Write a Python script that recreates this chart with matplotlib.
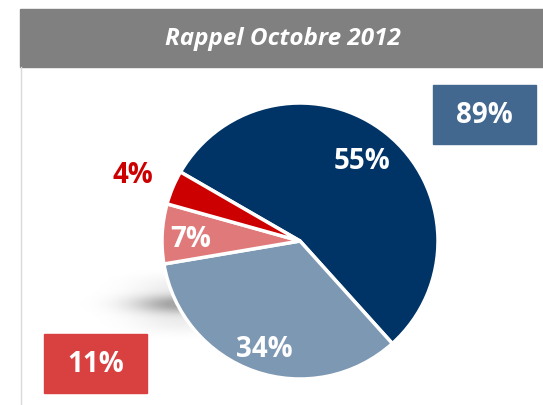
import matplotlib.pyplot as plt
from matplotlib.patches import Rectangle
import numpy as np

plt.rcParams['font.family'] = ['Open Sans', 'DejaVu Sans']

# data
title = 'Rappel Octobre 2012'
labels = ['55%', '34%', '7%', '4%']
shares = [55, 34, 7, 4]
colors = ['#003366', '#7d98b3', '#e07a7a', '#cc0000']
explode = [0.0, 0.0, 0.0, 0.05]
box_labels = ['89%', '11%']
box_colors = ['#436890', '#d94141']

W, H = 543, 406
fig = plt.figure(figsize=(W / 100, H / 100), dpi=100)
ax = fig.add_axes([0, 0, 1, 1])

# title bar
ax.add_patch(Rectangle((20, H - 68), W - 20, 58, color='#808080', zorder=1))
ax.text(283, H - 39, title, color='white', fontsize=17.5, fontweight='bold',
        fontstyle='italic', ha='center', va='center', zorder=2)
ax.plot([21, 21], [0, H - 68], color='#d9d9d9', lw=1, zorder=1)

# soft blurred shadow behind the pie (lower left)
cx, cy, r = 300, H - 242, 138
gx, gy = np.meshgrid(np.linspace(-1, 1, 200), np.linspace(-1, 1, 100))
soft = np.exp(-(gx ** 2 / 0.3 + gy ** 2 / 0.2) * 2)
streak = 1 + 0.35 * np.cos(gy * 12)
alpha = np.clip(soft * streak * 0.28, 0, 0.35)
shadow = np.zeros((100, 200, 4))
shadow[..., 3] = alpha
ax.imshow(shadow, extent=(60, 300, H - 360, H - 250), zorder=2,
          interpolation='bilinear', aspect='auto')

wedges, _ = ax.pie(shares, colors=colors, startangle=150, counterclock=False,
                   explode=explode, center=(cx, cy), radius=r,
                   wedgeprops=dict(edgecolor='white', linewidth=2.5))
for w in wedges:
    w.set_zorder(3)

# slice labels
label_pos = [(362, 162), (264, 350), (191, 240), (133, 176)]
label_col = ['white', 'white', 'white', '#cc0000']
for lab, (x, y), c in zip(labels, label_pos, label_col):
    ax.text(x, H - y, lab, color=c, fontsize=20, fontweight='bold',
            ha='center', va='center', zorder=4)

# summary boxes
boxes = [(433, 86, 103, 59), (44, 335, 103, 59)]
for lab, (x, y, bw, bh), c in zip(box_labels, boxes, box_colors):
    ax.add_patch(Rectangle((x, H - y - bh), bw, bh, color=c, zorder=3))
    ax.text(x + bw / 2, H - y - bh / 2, lab, color='white', fontsize=20,
            fontweight='bold', ha='center', va='center', zorder=4)

ax.set_xlim(0, W)
ax.set_ylim(0, H)
ax.set_aspect('auto')
ax.axis('off')

fig.savefig('out.png', dpi=100)
